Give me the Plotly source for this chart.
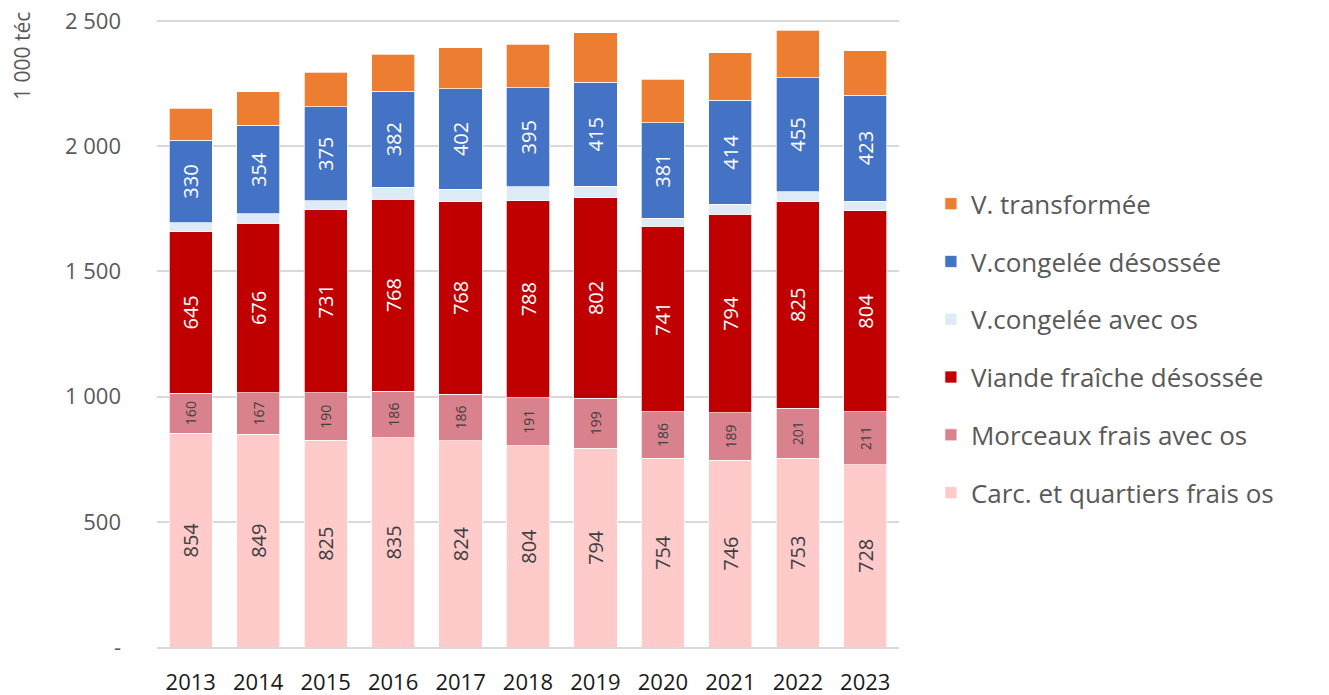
import plotly.graph_objects as go

years = ["2013", "2014", "2015", "2016", "2017", "2018", "2019", "2020", "2021", "2022", "2023"]

carc_frais_os = [854, 849, 825, 835, 824, 804, 794, 754, 746, 753, 728]
morceaux_frais_os = [160, 167, 190, 186, 186, 191, 199, 186, 189, 201, 211]
viande_fraiche_desossee = [645, 676, 731, 768, 768, 788, 802, 741, 794, 825, 804]
congelee_avec_os = [35, 38, 36, 48, 50, 55, 45, 31, 40, 40, 38]
congelee_desossee = [330, 354, 375, 382, 402, 395, 415, 381, 414, 455, 423]
transformee = [128, 133, 139, 148, 164, 174, 199, 174, 190, 190, 178]

y_ticks = [0, 500, 1000, 1500, 2000, 2500]
y_tick_labels = ["-", "500", "1 000", "1 500", "2 000", "2 500"]

FONT = "Open Sans"

series = [
    ("Carc. et quartiers frais os", carc_frais_os, "#FFCACA", True, 20, "#404040"),
    ("Morceaux frais avec os", morceaux_frais_os, "#D9828D", True, 14, "#404040"),
    ("Viande fraîche désossée", viande_fraiche_desossee, "#C00000", True, 20, "white"),
    ("V.congelée avec os", congelee_avec_os, "#DDEBF7", False, 12, "#404040"),
    ("V.congelée désossée", congelee_desossee, "#4472C4", True, 20, "white"),
    ("V. transformée", transformee, "#ED7D31", False, 12, "white"),
]

fig = go.Figure()
for i, (name, vals, color, show_text, tsize, tcolor) in enumerate(series):
    fig.add_trace(go.Bar(
        x=years,
        y=vals,
        name=name,
        legendgroup=str(i),
        legendrank=100 - i,  # top of stack first in legend
        marker=dict(color=color, line=dict(color="white", width=0.7)),
        text=[str(v) for v in vals] if show_text else None,
        textposition="inside" if show_text else "none",
        insidetextanchor="middle",
        textangle=-90,
        textfont=dict(family=FONT, size=tsize, color=tcolor),
        constraintext="none",
        hoverinfo="x+y+name",
    ))

# page body has an 8px margin, so the figure is a bit smaller than the window
fig.update_layout(
    barmode="stack",
    bargap=0.36,
    width=1321,
    height=687,
    margin=dict(l=149, r=430, t=10, b=48),
    plot_bgcolor="white",
    paper_bgcolor="white",
    font=dict(family=FONT, color="#595959"),
    legend=dict(
        x=1.043, xanchor="left",
        y=0.475, yanchor="middle",
        traceorder="grouped",
        tracegroupgap=21,
        font=dict(family=FONT, size=26, color="#595959"),
        bgcolor="rgba(0,0,0,0)",
    ),
    annotations=[dict(
        text="1 000 téc",
        xref="paper", yref="paper",
        x=-0.182, y=1.0,
        xanchor="center", yanchor="top",
        yshift=8,
        textangle=-90,
        showarrow=False,
        font=dict(family=FONT, size=21, color="#595959"),
    )],
)

fig.update_xaxes(
    automargin=False,
    showgrid=False,
    showline=True,
    linecolor="#D9D9D9",
    linewidth=1.5,
    ticks="",
    ticklabelstandoff=15,
    tickfont=dict(family=FONT, size=22, color="#1a1a1a"),
)

fig.update_yaxes(
    automargin=False,
    range=[0, 2512],
    tickvals=y_ticks,
    ticktext=y_tick_labels,
    ticklabeloverflow="allow",
    showgrid=True,
    gridcolor="#D9D9D9",
    gridwidth=1.5,
    zeroline=False,
    ticks="",
    ticklabelstandoff=35,
    tickfont=dict(family=FONT, size=22, color="#595959"),
)

fig.write_html("out.html")
